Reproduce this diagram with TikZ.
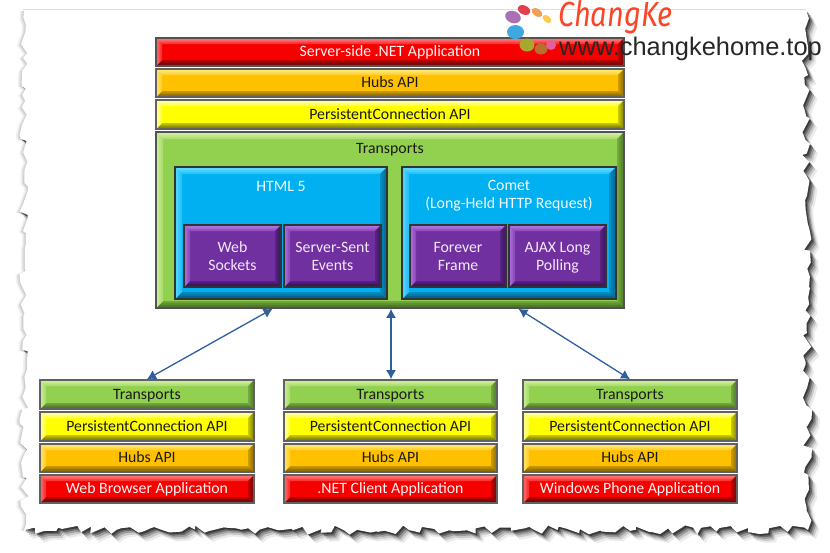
\documentclass[tikz,border=0pt]{standalone}
\usepackage{fontspec}
\setmainfont{Carlito}
\newfontfamily\urlfont{Liberation Sans}
\newfontfamily\logofont{Fira Sans}
\usetikzlibrary{calc,decorations.pathmorphing,arrows.meta}
\definecolor{redM}{HTML}{F60000}\definecolor{redL}{HTML}{FF7070}\definecolor{redD}{HTML}{7A0808}\definecolor{redT}{HTML}{FFF4F4}
\definecolor{ambM}{HTML}{FFC000}\definecolor{ambL}{HTML}{FFE670}\definecolor{ambD}{HTML}{947000}\definecolor{ambT}{HTML}{1A1A1A}
\definecolor{yelM}{HTML}{FFFF00}\definecolor{yelL}{HTML}{FFFFA0}\definecolor{yelD}{HTML}{888800}\definecolor{yelT}{HTML}{1A1A1A}
\definecolor{grnM}{HTML}{92D050}\definecolor{grnL}{HTML}{CCEE98}\definecolor{grnD}{HTML}{507C2A}\definecolor{grnT}{HTML}{1A1A1A}
\definecolor{bluM}{HTML}{00B0F0}\definecolor{bluL}{HTML}{58D8FF}\definecolor{bluD}{HTML}{006890}\definecolor{bluT}{HTML}{F0FAFF}
\definecolor{purM}{HTML}{7030A0}\definecolor{purL}{HTML}{B070E0}\definecolor{purD}{HTML}{3C1460}\definecolor{purT}{HTML}{F4E8FA}
\definecolor{arrowblue}{HTML}{2F5F9F}
\newcommand\firstline{\rule{0pt}{16.6pt}}
% one ring of the bevel: x1,y1,x2,y2,depth,top,bottom,left,right
\newcommand\bevring[9]{%
  \fill[#6] (#1,#2) -- (#3,#2) -- (#3-#5,#2+#5) -- (#1+#5,#2+#5) -- cycle;
  \fill[#7] (#1,#4) -- (#3,#4) -- (#3-#5,#4-#5) -- (#1+#5,#4-#5) -- cycle;
  \fill[#8] (#1,#2) -- (#1+#5,#2+#5) -- (#1+#5,#4-#5) -- (#1,#4) -- cycle;
  \fill[#9] (#3,#2) -- (#3-#5,#2+#5) -- (#3-#5,#4-#5) -- (#3,#4) -- cycle;
}
% name, x1, y1, x2, y2, palette, bevel, border, text
\newcommand\bev[9]{%
  \fill[#6M] (#2,#3) rectangle (#4,#5);
  \bevring{#2}{#3}{#4}{#5}{#7}{#6M!50!#6L}{#6M!50!#6D}{#6M!55!#6L}{#6M!55!#6D}
  \bevring{#2}{#3}{#4}{#5}{#7*0.72}{#6M!22!#6L}{#6M!25!#6D}{#6M!35!#6L}{#6M!35!#6D}
  \bevring{#2}{#3}{#4}{#5}{#7*0.44}{#6L}{#6D}{#6M!15!#6L}{#6M!15!#6D}
  \node[boxnode,draw=#8,text=#6T,minimum width={(#4-#2)*1pt},minimum height={(#5-#3)*1pt}] (#1) at ({(#2+#4)/2},{(#3+#5)/2}) {\rule[-3.4pt]{0pt}{16pt}#9};
}
\newcommand\papershape{(806,10) decorate[decoration={random steps,segment length=7pt,amplitude=4.6pt}]{-- (808,530) -- (24,530) -- (24,10)} -- cycle}
\tikzset{
  x=1pt,y=-1pt,
  boxnode/.style={rectangle,line width=1.6pt,inner sep=0pt,align=center,font=\fontsize{15.8}{18}\selectfont},
  caption/.style={inner sep=0pt,align=center,font=\fontsize{15.8}{18.5}\selectfont},
  link/.style={draw=arrowblue,line width=1.3pt,{Latex[length=9pt,width=10pt]}-{Latex[length=9pt,width=10pt]}},
}
\begin{document}
\begin{tikzpicture}
\useasboundingbox (0,0) rectangle (830,552);
\fill[white] (0,0) rectangle (830,552);
% torn paper with shadow
\foreach \sx/\sy/\o in {-4/1/.05,-2.5/1/.07,-1.2/.6/.08,8/9/.08,6/7/.14,4.5/5/.22,3/3.2/.32,1.5/1.8/.42}{
  \pgfmathsetseed{4242}
  \fill[black,opacity=\o,shift={(\sx,\sy)}] \papershape;
}
\pgfmathsetseed{4242}
\fill[white] \papershape;
\fill[white] (0,0) rectangle (830,9);
\draw[gray!25,line width=.8pt] (23,9.5) -- (806,9.5);
% server stack
\bev{srv}{156}{38}{624}{66}{red}{6}{black!68}{Server-side .NET Application}
\bev{hub}{156}{69}{624}{97}{amb}{6}{black!62}{Hubs API}
\bev{pc}{156}{100}{624}{129}{yel}{6}{black!62}{PersistentConnection API}
\bev{mt}{156}{132}{624}{308}{grn}{7}{black!68}{}
\node[caption,text=grnT] (mtl) at (390,150) {Transports};
\bev{html}{175}{167}{387}{299}{blu}{7}{black!80}{}
\node[caption,text=bluT] (htmll) at (281,186) {HTML 5};
\bev{comet}{402}{167}{616}{299}{blu}{7}{black!80}{}
\node[caption,text=bluT] (cometl) at (509,195.5) {Comet\\(Long-Held HTTP Request)};
\bev{ws}{184}{225}{281}{287}{pur}{6}{black!80}{\firstline Web\\Sockets\strut}
\bev{sse}{284}{225}{381}{287}{pur}{6}{black!80}{\firstline Server-Sent\\Events\strut}
\bev{ff}{410}{225}{506}{287}{pur}{6}{black!80}{\firstline Forever\\Frame\strut}
\bev{ajax}{509}{225}{606}{287}{pur}{6}{black!80}{\firstline AJAX Long\\Polling\strut}
% client stacks
\bev{ta}{40}{380}{254}{409}{grn}{6}{black!62}{Transports}
\bev{pa}{40}{412}{254}{441}{yel}{6}{black!62}{PersistentConnection API}
\bev{ha}{40}{444}{254}{472}{amb}{6}{black!62}{Hubs API}
\bev{ca}{40}{475}{254}{503}{red}{6}{black!62}{Web Browser Application}
\bev{tb}{284}{380}{497}{409}{grn}{6}{black!62}{Transports}
\bev{pb}{284}{412}{497}{441}{yel}{6}{black!62}{PersistentConnection API}
\bev{hb}{284}{444}{497}{472}{amb}{6}{black!62}{Hubs API}
\bev{cb}{284}{475}{497}{503}{red}{6}{black!62}{.NET Client Application}
\bev{tc}{523}{380}{737}{409}{grn}{6}{black!62}{Transports}
\bev{pc2}{523}{412}{737}{441}{yel}{6}{black!62}{PersistentConnection API}
\bev{hc}{523}{444}{737}{472}{amb}{6}{black!62}{Hubs API}
\bev{cc}{523}{475}{737}{503}{red}{6}{black!62}{Windows Phone Application}
% connectors
\coordinate (ja) at ($(mt.south west)!0.2500!(mt.south east)$);
\coordinate (jb) at ($(mt.south west)!0.5021!(mt.south east)$);
\coordinate (jc) at ($(mt.south west)!0.7735!(mt.south east)$);
\draw[link] (ja) -- (ta.north);
\draw[link] (jb) -- (jb |- tb.north);
\draw[link] (jc) -- (tc.north);
% logo
\fill[color={rgb,255:red,171;green,111;blue,181},rotate around={-20:(513,17)}] (513,17) ellipse (8 and 6);
\fill[color={rgb,255:red,224;green,64;blue,79},rotate around={-25:(524,10)}] (524,10) ellipse (6.5 and 4.5);
\fill[color={rgb,255:red,240;green,160;blue,80},rotate around={-35:(537,12.5)}] (537,12.5) ellipse (6 and 3.6);
\fill[color={rgb,255:red,255;green,200;blue,80},rotate around={-40:(547,19)}] (547,19) ellipse (5 and 3.2);
\fill[color={rgb,255:red,64;green,168;blue,224}] (515.5,32) ellipse (8.5 and 7);
\fill[color={rgb,255:red,168;green,168;blue,48}] (527,45) ellipse (7.5 and 6.5);
\fill[color={rgb,255:red,184;green,112;blue,48}] (541,49) ellipse (6.5 and 5.5);
\fill[color={rgb,255:red,224;green,96;blue,160}] (551,45) ellipse (5 and 5);
\node[inner sep=0pt,anchor=base west,text={rgb,255:red,250;green,70;blue,40},yscale=1.2,font=\logofont\itshape\fontsize{29}{29}\selectfont] (logo) at (558,26) {ChangKe};
\node[inner sep=0pt,anchor=base west,text=black!85,font=\urlfont\fontsize{25.4}{26}\selectfont] (url) at (559,55) {www.changkehome.top};
\end{tikzpicture}
\end{document}
